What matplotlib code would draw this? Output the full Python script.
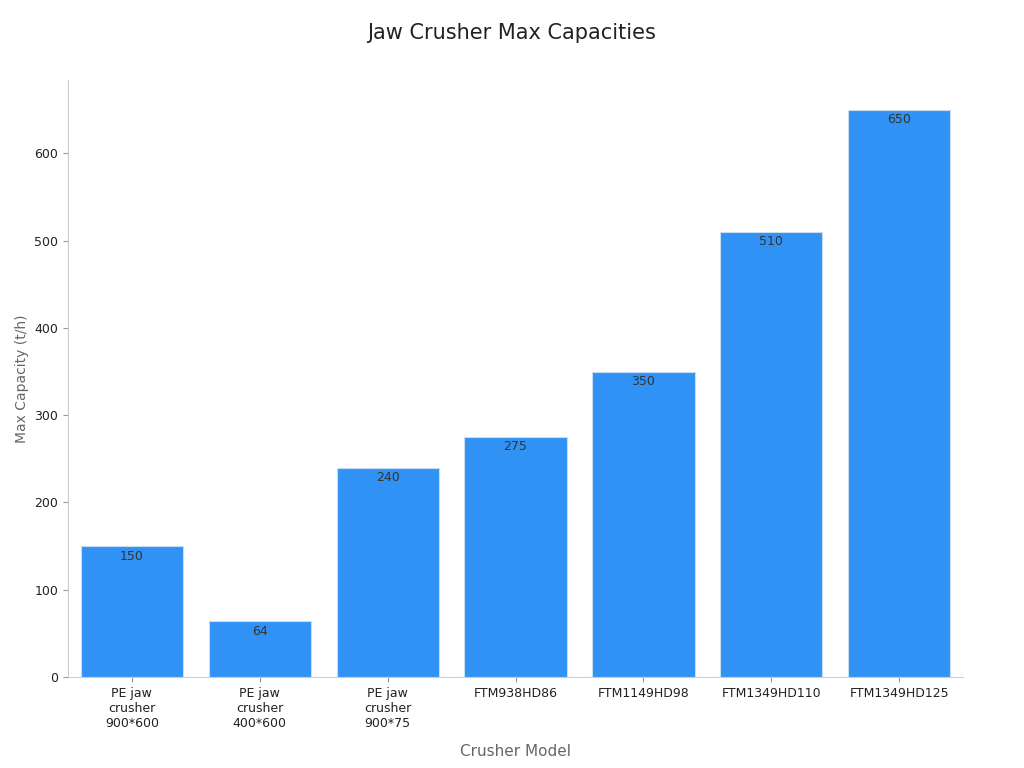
import matplotlib
matplotlib.use("Agg")
import matplotlib.pyplot as plt

models = ["PE jaw\ncrusher\n900*600", "PE jaw\ncrusher\n400*600", "PE jaw\ncrusher\n900*75",
          "FTM938HD86", "FTM1149HD98", "FTM1349HD110", "FTM1349HD125"]
capacities = [150, 64, 240, 275, 350, 510, 650]

fig = plt.figure(figsize=(10.24, 7.68), dpi=100)
ax = fig.add_axes([68 / 1024, 1 - 677 / 768, (963 - 68) / 1024, (677 - 80) / 768])

x = range(len(models))
bars = ax.bar(x, capacities, width=0.8, color="#3092F5", edgecolor="#c8ddf5", linewidth=0.8)
for b, v in zip(bars, capacities):
    ax.text(b.get_x() + b.get_width() / 2, v - 4, str(v), ha="center", va="top",
            fontsize=9, color="#333333")

ax.set_xlim(-0.5, 6.5)
ax.set_ylim(0, 684)
ax.set_xticks(list(x))
ax.set_xticklabels(models, fontsize=9, color="#222222")
ax.set_yticks([0, 100, 200, 300, 400, 500, 600])
ax.tick_params(axis="y", labelsize=9, labelcolor="#222222", color="#999999")
ax.tick_params(axis="x", color="#999999")
for s in ["top", "right"]:
    ax.spines[s].set_visible(False)
for s in ["left", "bottom"]:
    ax.spines[s].set_color("#cccccc")

ax.set_xlabel("Crusher Model", fontsize=11, color="#666666", labelpad=10)
ax.set_ylabel("Max Capacity (t/h)", fontsize=10, color="#666666")
fig.suptitle("Jaw Crusher Max Capacities", fontsize=15, color="#222222", y=0.97)

fig.savefig("out.png", dpi=100)
